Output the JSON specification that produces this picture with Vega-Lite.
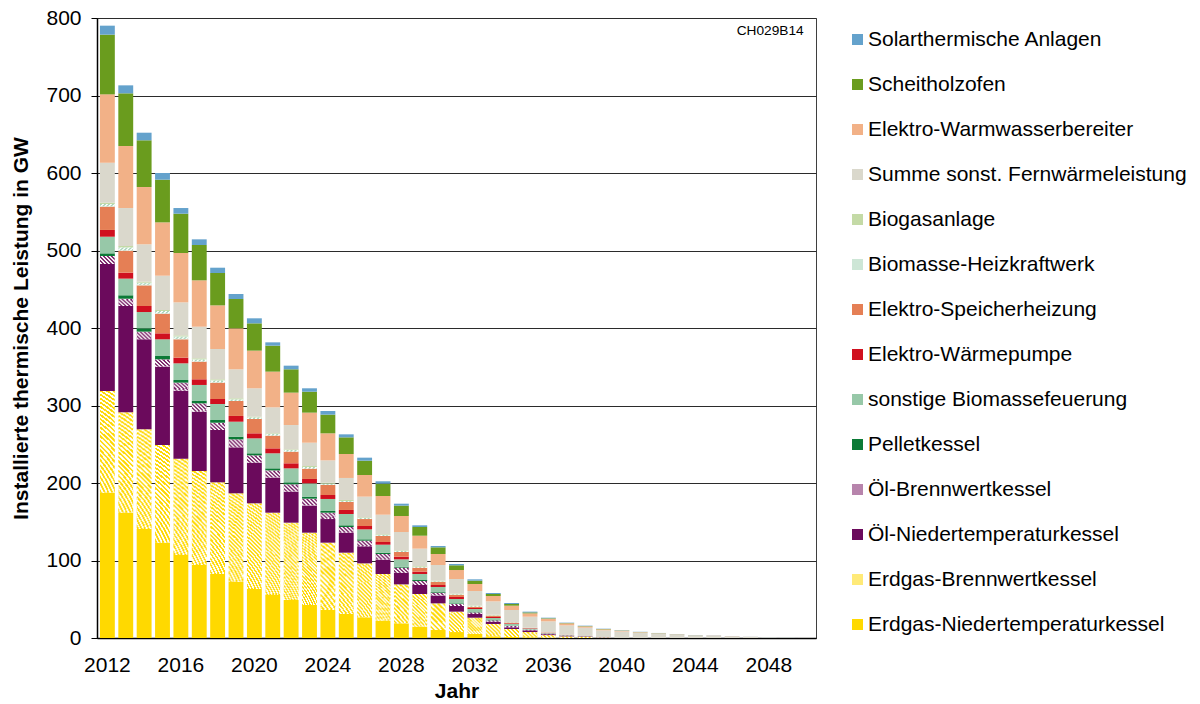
{
  "$schema": "https://vega.github.io/schema/vega-lite/v6.json",
  "width": 719,
  "height": 620,
  "autosize": {"type": "none"},
  "padding": {"left": 97, "top": 18, "right": 384, "bottom": 66},
  "background": "#ffffff",
  "config": {
    "font": "Liberation Sans",
    "view": {"stroke": "#3f3f3f", "strokeWidth": 1},
    "axis": {
      "labelFont": "Liberation Sans",
      "titleFont": "Liberation Sans",
      "labelFontSize": 21,
      "titleFontSize": 21,
      "labelColor": "#000000",
      "titleColor": "#000000",
      "titleFontWeight": "bold",
      "domainColor": "#000000",
      "domainWidth": 1.5,
      "tickColor": "#000000"
    }
  },
  "datasets": {
    "leistung": [
      {"Jahr": 2012, "ent": 187.5, "ebw": 131.2, "oent": 163.9, "oebw": 10.3, "pel": 3.4, "sbio": 21.5, "ewp": 8.7, "esh": 30.1, "bhkw": 3.4, "bgas": 1.7, "fw": 51.6, "eww": 88.2, "sch": 77.0, "sol": 11.6},
      {"Jahr": 2013, "ent": 161.7, "ebw": 129.5, "oent": 137.2, "oebw": 9.4, "pel": 4.4, "sbio": 21.5, "ewp": 7.7, "esh": 28.4, "bhkw": 4.3, "bgas": 1.7, "fw": 49.0, "eww": 80.0, "sch": 68.0, "sol": 10.3},
      {"Jahr": 2014, "ent": 140.6, "ebw": 128.6, "oent": 116.2, "oebw": 9.9, "pel": 4.3, "sbio": 21.0, "ewp": 7.8, "esh": 26.6, "bhkw": 3.5, "bgas": 1.3, "fw": 48.2, "eww": 73.9, "sch": 60.3, "sol": 9.8},
      {"Jahr": 2015, "ent": 123.0, "ebw": 126.0, "oent": 101.1, "oebw": 9.5, "pel": 4.3, "sbio": 21.5, "ewp": 7.7, "esh": 25.4, "bhkw": 3.4, "bgas": 1.3, "fw": 44.3, "eww": 68.8, "sch": 55.1, "sol": 8.6},
      {"Jahr": 2016, "ent": 107.1, "ebw": 124.3, "oent": 87.7, "oebw": 10.4, "pel": 3.4, "sbio": 21.5, "ewp": 7.3, "esh": 23.7, "bhkw": 3.8, "bgas": 1.3, "fw": 42.6, "eww": 63.7, "sch": 50.7, "sol": 7.3},
      {"Jahr": 2017, "ent": 94.2, "ebw": 121.3, "oent": 76.5, "oebw": 10.8, "pel": 3.0, "sbio": 20.7, "ewp": 7.3, "esh": 22.8, "bhkw": 3.0, "bgas": 1.3, "fw": 40.8, "eww": 59.8, "sch": 45.6, "sol": 7.3},
      {"Jahr": 2018, "ent": 82.6, "ebw": 118.3, "oent": 67.5, "oebw": 9.4, "pel": 3.5, "sbio": 20.6, "ewp": 6.5, "esh": 21.1, "bhkw": 3.0, "bgas": 1.3, "fw": 39.1, "eww": 56.3, "sch": 41.8, "sol": 6.8},
      {"Jahr": 2019, "ent": 72.7, "ebw": 114.0, "oent": 59.3, "oebw": 10.3, "pel": 3.5, "sbio": 19.3, "ewp": 7.4, "esh": 19.3, "bhkw": 2.2, "bgas": 1.3, "fw": 37.4, "eww": 52.9, "sch": 37.8, "sol": 6.5},
      {"Jahr": 2020, "ent": 63.2, "ebw": 110.6, "oent": 52.4, "oebw": 9.5, "pel": 2.6, "sbio": 19.3, "ewp": 6.5, "esh": 18.5, "bhkw": 2.1, "bgas": 0.9, "fw": 36.6, "eww": 48.6, "sch": 35.2, "sol": 6.5},
      {"Jahr": 2021, "ent": 55.5, "ebw": 106.2, "oent": 45.2, "oebw": 9.4, "pel": 2.6, "sbio": 19.4, "ewp": 6.4, "esh": 16.4, "bhkw": 2.1, "bgas": 0.9, "fw": 33.5, "eww": 46.1, "sch": 33.5, "sol": 4.3},
      {"Jahr": 2022, "ent": 49.0, "ebw": 99.8, "oent": 40.0, "oebw": 9.5, "pel": 2.6, "sbio": 18.0, "ewp": 6.5, "esh": 15.0, "bhkw": 2.2, "bgas": 0.8, "fw": 31.4, "eww": 41.8, "sch": 30.1, "sol": 4.7},
      {"Jahr": 2023, "ent": 42.6, "ebw": 93.3, "oent": 34.9, "oebw": 9.0, "pel": 2.6, "sbio": 17.2, "ewp": 5.6, "esh": 13.3, "bhkw": 2.1, "bgas": 1.3, "fw": 30.1, "eww": 38.8, "sch": 27.0, "sol": 4.4},
      {"Jahr": 2024, "ent": 36.1, "ebw": 86.9, "oent": 30.5, "oebw": 8.2, "pel": 2.2, "sbio": 15.5, "ewp": 5.1, "esh": 12.9, "bhkw": 1.7, "bgas": 1.3, "fw": 28.8, "eww": 34.9, "sch": 24.1, "sol": 4.7},
      {"Jahr": 2025, "ent": 31.0, "ebw": 79.1, "oent": 25.8, "oebw": 7.3, "pel": 2.2, "sbio": 14.6, "ewp": 5.2, "esh": 10.3, "bhkw": 1.3, "bgas": 1.3, "fw": 28.4, "eww": 30.9, "sch": 21.5, "sol": 3.9},
      {"Jahr": 2026, "ent": 26.7, "ebw": 69.6, "oent": 22.0, "oebw": 7.3, "pel": 1.7, "sbio": 12.9, "ewp": 4.3, "esh": 9.0, "bhkw": 1.3, "bgas": 0.9, "fw": 26.7, "eww": 27.9, "sch": 18.5, "sol": 3.9},
      {"Jahr": 2027, "ent": 22.4, "ebw": 60.2, "oent": 18.5, "oebw": 7.3, "pel": 1.7, "sbio": 10.3, "ewp": 3.5, "esh": 7.7, "bhkw": 1.3, "bgas": 0.9, "fw": 25.3, "eww": 24.1, "sch": 15.9, "sol": 3.1},
      {"Jahr": 2028, "ent": 18.9, "ebw": 50.3, "oent": 15.1, "oebw": 6.5, "pel": 1.2, "sbio": 9.5, "ewp": 3.4, "esh": 6.1, "bhkw": 1.3, "bgas": 0.8, "fw": 23.7, "eww": 20.6, "sch": 13.4, "sol": 2.5},
      {"Jahr": 2029, "ent": 14.6, "ebw": 42.2, "oent": 11.6, "oebw": 5.1, "pel": 1.3, "sbio": 7.8, "ewp": 3.0, "esh": 5.2, "bhkw": 1.2, "bgas": 0.9, "fw": 22.4, "eww": 16.7, "sch": 11.2, "sol": 2.2},
      {"Jahr": 2030, "ent": 10.3, "ebw": 34.4, "oent": 9.9, "oebw": 3.9, "pel": 0.9, "sbio": 6.4, "ewp": 2.6, "esh": 3.9, "bhkw": 0.8, "bgas": 0.9, "fw": 20.2, "eww": 14.2, "sch": 8.6, "sol": 1.7},
      {"Jahr": 2031, "ent": 7.7, "ebw": 26.3, "oent": 7.3, "oebw": 2.6, "pel": 0.8, "sbio": 5.6, "ewp": 2.6, "esh": 2.6, "bhkw": 0.8, "bgas": 0.9, "fw": 18.9, "eww": 11.6, "sch": 6.1, "sol": 1.7},
      {"Jahr": 2032, "ent": 5.2, "ebw": 21.0, "oent": 4.8, "oebw": 2.1, "pel": 0.4, "sbio": 3.9, "ewp": 1.3, "esh": 1.7, "bhkw": 1.2, "bgas": 0.6, "fw": 18.4, "eww": 9.1, "sch": 4.3, "sol": 1.7},
      {"Jahr": 2033, "ent": 2.2, "ebw": 15.9, "oent": 3.0, "oebw": 1.7, "pel": 0.4, "sbio": 2.6, "ewp": 1.3, "esh": 1.7, "bhkw": 0.4, "bgas": 0.9, "fw": 17.2, "eww": 6.9, "sch": 2.6, "sol": 1.3},
      {"Jahr": 2034, "ent": 1.3, "ebw": 10.3, "oent": 2.2, "oebw": 1.7, "pel": 0.4, "sbio": 2.2, "ewp": 0.8, "esh": 0.9, "bhkw": 0.4, "bgas": 0.4, "fw": 15.5, "eww": 5.6, "sch": 2.2, "sol": 1.3},
      {"Jahr": 2035, "ent": 0.9, "ebw": 6.8, "oent": 2.2, "oebw": 0.9, "pel": 0.2, "sbio": 1.2, "ewp": 0.5, "esh": 0.4, "bhkw": 0.1, "bgas": 0.1, "fw": 14.2, "eww": 4.3, "sch": 1.2, "sol": 1.0},
      {"Jahr": 2036, "ent": 0.3, "ebw": 3.4, "oent": 1.2, "oebw": 0.6, "pel": 0.2, "sbio": 0.6, "ewp": 0.4, "esh": 0.4, "bhkw": 0.1, "bgas": 0.1, "fw": 14.2, "eww": 3.4, "sch": 0.6, "sol": 0.7},
      {"Jahr": 2037, "ent": 0.1, "ebw": 2.0, "oent": 0.8, "oebw": 0.4, "pel": 0.1, "sbio": 0.4, "ewp": 0.2, "esh": 0.2, "bhkw": 0.05, "bgas": 0.05, "fw": 12.0, "eww": 2.6, "sch": 0.4, "sol": 0.5},
      {"Jahr": 2038, "ent": 0.05, "ebw": 1.2, "oent": 0.5, "oebw": 0.3, "pel": 0.05, "sbio": 0.3, "ewp": 0.1, "esh": 0.1, "bhkw": 0, "bgas": 0, "fw": 10.7, "eww": 1.7, "sch": 0.4, "sol": 0.5},
      {"Jahr": 2039, "ent": 0, "ebw": 0.4, "oent": 0.2, "oebw": 0.1, "pel": 0, "sbio": 0.1, "ewp": 0.05, "esh": 0.05, "bhkw": 0, "bgas": 0, "fw": 9.0, "eww": 1.3, "sch": 0.4, "sol": 0.4},
      {"Jahr": 2040, "ent": 0, "ebw": 0.2, "oent": 0, "oebw": 0, "pel": 0, "sbio": 0, "ewp": 0, "esh": 0, "bhkw": 0, "bgas": 0, "fw": 8.2, "eww": 1.0, "sch": 0.3, "sol": 0.3},
      {"Jahr": 2041, "ent": 0, "ebw": 0, "oent": 0, "oebw": 0, "pel": 0, "sbio": 0, "ewp": 0, "esh": 0, "bhkw": 0, "bgas": 0, "fw": 6.9, "eww": 0.6, "sch": 0.2, "sol": 0.3},
      {"Jahr": 2042, "ent": 0, "ebw": 0, "oent": 0, "oebw": 0, "pel": 0, "sbio": 0, "ewp": 0, "esh": 0, "bhkw": 0, "bgas": 0, "fw": 5.7, "eww": 0.4, "sch": 0.2, "sol": 0.2},
      {"Jahr": 2043, "ent": 0, "ebw": 0, "oent": 0, "oebw": 0, "pel": 0, "sbio": 0, "ewp": 0, "esh": 0, "bhkw": 0, "bgas": 0, "fw": 4.6, "eww": 0.3, "sch": 0.1, "sol": 0.2},
      {"Jahr": 2044, "ent": 0, "ebw": 0, "oent": 0, "oebw": 0, "pel": 0, "sbio": 0, "ewp": 0, "esh": 0, "bhkw": 0, "bgas": 0, "fw": 3.4, "eww": 0.2, "sch": 0.1, "sol": 0.2},
      {"Jahr": 2045, "ent": 0, "ebw": 0, "oent": 0, "oebw": 0, "pel": 0, "sbio": 0, "ewp": 0, "esh": 0, "bhkw": 0, "bgas": 0, "fw": 3.0, "eww": 0.3, "sch": 0, "sol": 0.2},
      {"Jahr": 2046, "ent": 0, "ebw": 0, "oent": 0, "oebw": 0, "pel": 0, "sbio": 0, "ewp": 0, "esh": 0, "bhkw": 0, "bgas": 0, "fw": 2.3, "eww": 0.2, "sch": 0, "sol": 0.1},
      {"Jahr": 2047, "ent": 0, "ebw": 0, "oent": 0, "oebw": 0, "pel": 0, "sbio": 0, "ewp": 0, "esh": 0, "bhkw": 0, "bgas": 0, "fw": 1.5, "eww": 0.1, "sch": 0, "sol": 0.1},
      {"Jahr": 2048, "ent": 0, "ebw": 0, "oent": 0, "oebw": 0, "pel": 0, "sbio": 0, "ewp": 0, "esh": 0, "bhkw": 0, "bgas": 0, "fw": 0.8, "eww": 0, "sch": 0, "sol": 0.1},
      {"Jahr": 2049, "ent": 0, "ebw": 0, "oent": 0, "oebw": 0, "pel": 0, "sbio": 0, "ewp": 0, "esh": 0, "bhkw": 0, "bgas": 0, "fw": 0.6, "eww": 0, "sch": 0, "sol": 0.1},
      {"Jahr": 2050, "ent": 0, "ebw": 0, "oent": 0, "oebw": 0, "pel": 0, "sbio": 0, "ewp": 0, "esh": 0, "bhkw": 0, "bgas": 0, "fw": 0.2, "eww": 0, "sch": 0, "sol": 0}
    ],
    "anlagen": [
      {"key": "sol", "Anlage": "Solarthermische Anlagen"},
      {"key": "sch", "Anlage": "Scheitholzofen"},
      {"key": "eww", "Anlage": "Elektro-Warmwasserbereiter"},
      {"key": "fw", "Anlage": "Summe sonst. Fernwärmeleistung"},
      {"key": "bgas", "Anlage": "Biogasanlage"},
      {"key": "bhkw", "Anlage": "Biomasse-Heizkraftwerk"},
      {"key": "esh", "Anlage": "Elektro-Speicherheizung"},
      {"key": "ewp", "Anlage": "Elektro-Wärmepumpe"},
      {"key": "sbio", "Anlage": "sonstige Biomassefeuerung"},
      {"key": "pel", "Anlage": "Pelletkessel"},
      {"key": "oebw", "Anlage": "Öl-Brennwertkessel"},
      {"key": "oent", "Anlage": "Öl-Niedertemperaturkessel"},
      {"key": "ebw", "Anlage": "Erdgas-Brennwertkessel"},
      {"key": "ent", "Anlage": "Erdgas-Niedertemperaturkessel"}
    ]
  },
  "layer": [
    {
      "data": {"name": "leistung"},
      "transform": [
        {"fold": ["ent", "ebw", "oent", "oebw", "pel", "sbio", "ewp", "esh", "bhkw", "bgas", "fw", "eww", "sch", "sol"], "as": ["key", "GW"]},
        {"lookup": "key", "from": {"data": {"name": "anlagen"}, "key": "key", "fields": ["Anlage"]}},
        {"calculate": "indexof(['ent','ebw','oent','oebw','pel','sbio','ewp','esh','bhkw','bgas','fw','eww','sch','sol'], datum.key)", "as": "Stapel"}
      ],
      "mark": {"type": "bar"},
      "encoding": {
        "x": {
          "field": "Jahr",
          "type": "ordinal",
          "scale": {"paddingInner": 0.19, "paddingOuter": 0.16},
          "axis": {
            "values": [2012, 2016, 2020, 2024, 2028, 2032, 2036, 2040, 2044, 2048],
            "labelAngle": 0,
            "ticks": false,
            "tickSize": 0,
            "labelPadding": 16,
            "title": "Jahr",
            "titlePadding": 5,
            "grid": false
          }
        },
        "y": {
          "field": "GW",
          "type": "quantitative",
          "stack": "zero",
          "scale": {"domain": [0, 800], "nice": false},
          "axis": {
            "values": [0, 100, 200, 300, 400, 500, 600, 700, 800],
            "title": "Installierte thermische Leistung in GW",
            "tickSize": 6,
            "labelPadding": 10,
            "titlePadding": 14,
            "grid": true,
            "gridColor": "#2b2b2b",
            "gridWidth": 1
          }
        },
        "order": {"field": "Stapel", "type": "quantitative"},
        "color": {
          "condition": [
            {"test": "datum.key === 'ebw' && datum.GW >= 90", "value": {"gradient": "radial", "x1": -0.3583, "y1": 1.3583, "r1": 0, "x2": -0.3583, "y2": 1.3583, "r2": 1.6638, "stops": [
              {"offset": 0.46, "color": "#FFD800"}, {"offset": 0.47, "color": "#FFD800"}, {"offset": 0.47, "color": "#FFFFFF"}, {"offset": 0.48, "color": "#FFFFFF"},
              {"offset": 0.48, "color": "#FFD800"}, {"offset": 0.49, "color": "#FFD800"}, {"offset": 0.49, "color": "#FFFFFF"}, {"offset": 0.5, "color": "#FFFFFF"},
              {"offset": 0.5, "color": "#FFD800"}, {"offset": 0.51, "color": "#FFD800"}, {"offset": 0.51, "color": "#FFFFFF"}, {"offset": 0.52, "color": "#FFFFFF"},
              {"offset": 0.52, "color": "#FFD800"}, {"offset": 0.53, "color": "#FFD800"}, {"offset": 0.53, "color": "#FFFFFF"}, {"offset": 0.54, "color": "#FFFFFF"},
              {"offset": 0.54, "color": "#FFD800"}, {"offset": 0.55, "color": "#FFD800"}, {"offset": 0.55, "color": "#FFFFFF"}, {"offset": 0.56, "color": "#FFFFFF"},
              {"offset": 0.56, "color": "#FFD800"}, {"offset": 0.57, "color": "#FFD800"}, {"offset": 0.57, "color": "#FFFFFF"}, {"offset": 0.58, "color": "#FFFFFF"},
              {"offset": 0.58, "color": "#FFD800"}, {"offset": 0.59, "color": "#FFD800"}, {"offset": 0.59, "color": "#FFFFFF"}, {"offset": 0.6, "color": "#FFFFFF"},
              {"offset": 0.6, "color": "#FFD800"}, {"offset": 0.61, "color": "#FFD800"}, {"offset": 0.61, "color": "#FFFFFF"}, {"offset": 0.62, "color": "#FFFFFF"},
              {"offset": 0.62, "color": "#FFD800"}, {"offset": 0.63, "color": "#FFD800"}, {"offset": 0.63, "color": "#FFFFFF"}, {"offset": 0.64, "color": "#FFFFFF"},
              {"offset": 0.64, "color": "#FFD800"}, {"offset": 0.65, "color": "#FFD800"}, {"offset": 0.65, "color": "#FFFFFF"}, {"offset": 0.66, "color": "#FFFFFF"},
              {"offset": 0.66, "color": "#FFD800"}, {"offset": 0.67, "color": "#FFD800"}, {"offset": 0.67, "color": "#FFFFFF"}, {"offset": 0.68, "color": "#FFFFFF"},
              {"offset": 0.68, "color": "#FFD800"}, {"offset": 0.69, "color": "#FFD800"}, {"offset": 0.69, "color": "#FFFFFF"}, {"offset": 0.7, "color": "#FFFFFF"},
              {"offset": 0.7, "color": "#FFD800"}, {"offset": 0.71, "color": "#FFD800"}, {"offset": 0.71, "color": "#FFFFFF"}, {"offset": 0.72, "color": "#FFFFFF"},
              {"offset": 0.72, "color": "#FFD800"}, {"offset": 0.73, "color": "#FFD800"}, {"offset": 0.73, "color": "#FFFFFF"}, {"offset": 0.74, "color": "#FFFFFF"},
              {"offset": 0.74, "color": "#FFD800"}, {"offset": 0.75, "color": "#FFD800"}, {"offset": 0.75, "color": "#FFFFFF"}, {"offset": 0.76, "color": "#FFFFFF"},
              {"offset": 0.76, "color": "#FFD800"}, {"offset": 0.77, "color": "#FFD800"}, {"offset": 0.77, "color": "#FFFFFF"}, {"offset": 0.78, "color": "#FFFFFF"},
              {"offset": 0.78, "color": "#FFD800"}, {"offset": 0.79, "color": "#FFD800"}, {"offset": 0.79, "color": "#FFFFFF"}, {"offset": 0.8, "color": "#FFFFFF"},
              {"offset": 0.8, "color": "#FFD800"}, {"offset": 0.81, "color": "#FFD800"}, {"offset": 0.81, "color": "#FFFFFF"}, {"offset": 0.82, "color": "#FFFFFF"},
              {"offset": 0.82, "color": "#FFD800"}, {"offset": 0.83, "color": "#FFD800"}, {"offset": 0.83, "color": "#FFFFFF"}, {"offset": 0.84, "color": "#FFFFFF"},
              {"offset": 0.84, "color": "#FFD800"}, {"offset": 0.85, "color": "#FFD800"}, {"offset": 0.85, "color": "#FFFFFF"}, {"offset": 0.86, "color": "#FFFFFF"},
              {"offset": 0.86, "color": "#FFD800"}, {"offset": 0.87, "color": "#FFD800"}, {"offset": 0.87, "color": "#FFFFFF"}, {"offset": 0.88, "color": "#FFFFFF"},
              {"offset": 0.88, "color": "#FFD800"}, {"offset": 0.89, "color": "#FFD800"}, {"offset": 0.89, "color": "#FFFFFF"}, {"offset": 0.9, "color": "#FFFFFF"},
              {"offset": 0.9, "color": "#FFD800"}, {"offset": 0.91, "color": "#FFD800"}, {"offset": 0.91, "color": "#FFFFFF"}, {"offset": 0.92, "color": "#FFFFFF"},
              {"offset": 0.92, "color": "#FFD800"}, {"offset": 0.93, "color": "#FFD800"}, {"offset": 0.93, "color": "#FFFFFF"}, {"offset": 0.94, "color": "#FFFFFF"},
              {"offset": 0.94, "color": "#FFD800"}, {"offset": 0.95, "color": "#FFD800"}, {"offset": 0.95, "color": "#FFFFFF"}, {"offset": 0.96, "color": "#FFFFFF"},
              {"offset": 0.96, "color": "#FFD800"}, {"offset": 0.97, "color": "#FFD800"}, {"offset": 0.97, "color": "#FFFFFF"}, {"offset": 0.98, "color": "#FFFFFF"},
              {"offset": 0.98, "color": "#FFD800"}, {"offset": 0.99, "color": "#FFD800"}, {"offset": 0.99, "color": "#FFFFFF"}, {"offset": 1, "color": "#FFFFFF"}
            ]}},
            {"test": "datum.key === 'ebw' && datum.GW >= 58", "value": {"gradient": "radial", "x1": -0.9463, "y1": 1.9463, "r1": 0, "x2": -0.9463, "y2": 1.9463, "r2": 2.5254, "stops": [
              {"offset": 0.62, "color": "#FFD800"}, {"offset": 0.63, "color": "#FFD800"}, {"offset": 0.63, "color": "#FFFFFF"}, {"offset": 0.64, "color": "#FFFFFF"},
              {"offset": 0.64, "color": "#FFD800"}, {"offset": 0.65, "color": "#FFD800"}, {"offset": 0.65, "color": "#FFFFFF"}, {"offset": 0.66, "color": "#FFFFFF"},
              {"offset": 0.66, "color": "#FFD800"}, {"offset": 0.67, "color": "#FFD800"}, {"offset": 0.67, "color": "#FFFFFF"}, {"offset": 0.68, "color": "#FFFFFF"},
              {"offset": 0.68, "color": "#FFD800"}, {"offset": 0.69, "color": "#FFD800"}, {"offset": 0.69, "color": "#FFFFFF"}, {"offset": 0.7, "color": "#FFFFFF"},
              {"offset": 0.7, "color": "#FFD800"}, {"offset": 0.71, "color": "#FFD800"}, {"offset": 0.71, "color": "#FFFFFF"}, {"offset": 0.72, "color": "#FFFFFF"},
              {"offset": 0.72, "color": "#FFD800"}, {"offset": 0.73, "color": "#FFD800"}, {"offset": 0.73, "color": "#FFFFFF"}, {"offset": 0.74, "color": "#FFFFFF"},
              {"offset": 0.74, "color": "#FFD800"}, {"offset": 0.75, "color": "#FFD800"}, {"offset": 0.75, "color": "#FFFFFF"}, {"offset": 0.76, "color": "#FFFFFF"},
              {"offset": 0.76, "color": "#FFD800"}, {"offset": 0.77, "color": "#FFD800"}, {"offset": 0.77, "color": "#FFFFFF"}, {"offset": 0.78, "color": "#FFFFFF"},
              {"offset": 0.78, "color": "#FFD800"}, {"offset": 0.79, "color": "#FFD800"}, {"offset": 0.79, "color": "#FFFFFF"}, {"offset": 0.8, "color": "#FFFFFF"},
              {"offset": 0.8, "color": "#FFD800"}, {"offset": 0.81, "color": "#FFD800"}, {"offset": 0.81, "color": "#FFFFFF"}, {"offset": 0.82, "color": "#FFFFFF"},
              {"offset": 0.82, "color": "#FFD800"}, {"offset": 0.83, "color": "#FFD800"}, {"offset": 0.83, "color": "#FFFFFF"}, {"offset": 0.84, "color": "#FFFFFF"},
              {"offset": 0.84, "color": "#FFD800"}, {"offset": 0.85, "color": "#FFD800"}, {"offset": 0.85, "color": "#FFFFFF"}, {"offset": 0.86, "color": "#FFFFFF"},
              {"offset": 0.86, "color": "#FFD800"}, {"offset": 0.87, "color": "#FFD800"}, {"offset": 0.87, "color": "#FFFFFF"}, {"offset": 0.88, "color": "#FFFFFF"},
              {"offset": 0.88, "color": "#FFD800"}, {"offset": 0.89, "color": "#FFD800"}, {"offset": 0.89, "color": "#FFFFFF"}, {"offset": 0.9, "color": "#FFFFFF"},
              {"offset": 0.9, "color": "#FFD800"}, {"offset": 0.91, "color": "#FFD800"}, {"offset": 0.91, "color": "#FFFFFF"}, {"offset": 0.92, "color": "#FFFFFF"},
              {"offset": 0.92, "color": "#FFD800"}, {"offset": 0.93, "color": "#FFD800"}, {"offset": 0.93, "color": "#FFFFFF"}, {"offset": 0.94, "color": "#FFFFFF"},
              {"offset": 0.94, "color": "#FFD800"}, {"offset": 0.95, "color": "#FFD800"}, {"offset": 0.95, "color": "#FFFFFF"}, {"offset": 0.96, "color": "#FFFFFF"},
              {"offset": 0.96, "color": "#FFD800"}, {"offset": 0.97, "color": "#FFD800"}, {"offset": 0.97, "color": "#FFFFFF"}, {"offset": 0.98, "color": "#FFFFFF"},
              {"offset": 0.98, "color": "#FFD800"}, {"offset": 0.99, "color": "#FFD800"}, {"offset": 0.99, "color": "#FFFFFF"}, {"offset": 1, "color": "#FFFFFF"}
            ]}},
            {"test": "datum.key === 'ebw' && datum.GW >= 36", "value": {"gradient": "radial", "x1": -1.8818, "y1": 2.8818, "r1": 0, "x2": -1.8818, "y2": 2.8818, "r2": 3.9283, "stops": [
              {"offset": 0.7, "color": "#FFD800"}, {"offset": 0.71, "color": "#FFD800"}, {"offset": 0.71, "color": "#FFFFFF"}, {"offset": 0.72, "color": "#FFFFFF"},
              {"offset": 0.72, "color": "#FFD800"}, {"offset": 0.73, "color": "#FFD800"}, {"offset": 0.73, "color": "#FFFFFF"}, {"offset": 0.74, "color": "#FFFFFF"},
              {"offset": 0.74, "color": "#FFD800"}, {"offset": 0.75, "color": "#FFD800"}, {"offset": 0.75, "color": "#FFFFFF"}, {"offset": 0.76, "color": "#FFFFFF"},
              {"offset": 0.76, "color": "#FFD800"}, {"offset": 0.77, "color": "#FFD800"}, {"offset": 0.77, "color": "#FFFFFF"}, {"offset": 0.78, "color": "#FFFFFF"},
              {"offset": 0.78, "color": "#FFD800"}, {"offset": 0.79, "color": "#FFD800"}, {"offset": 0.79, "color": "#FFFFFF"}, {"offset": 0.8, "color": "#FFFFFF"},
              {"offset": 0.8, "color": "#FFD800"}, {"offset": 0.81, "color": "#FFD800"}, {"offset": 0.81, "color": "#FFFFFF"}, {"offset": 0.82, "color": "#FFFFFF"},
              {"offset": 0.82, "color": "#FFD800"}, {"offset": 0.83, "color": "#FFD800"}, {"offset": 0.83, "color": "#FFFFFF"}, {"offset": 0.84, "color": "#FFFFFF"},
              {"offset": 0.84, "color": "#FFD800"}, {"offset": 0.85, "color": "#FFD800"}, {"offset": 0.85, "color": "#FFFFFF"}, {"offset": 0.86, "color": "#FFFFFF"},
              {"offset": 0.86, "color": "#FFD800"}, {"offset": 0.87, "color": "#FFD800"}, {"offset": 0.87, "color": "#FFFFFF"}, {"offset": 0.88, "color": "#FFFFFF"},
              {"offset": 0.88, "color": "#FFD800"}, {"offset": 0.89, "color": "#FFD800"}, {"offset": 0.89, "color": "#FFFFFF"}, {"offset": 0.9, "color": "#FFFFFF"},
              {"offset": 0.9, "color": "#FFD800"}, {"offset": 0.91, "color": "#FFD800"}, {"offset": 0.91, "color": "#FFFFFF"}, {"offset": 0.92, "color": "#FFFFFF"},
              {"offset": 0.92, "color": "#FFD800"}, {"offset": 0.93, "color": "#FFD800"}, {"offset": 0.93, "color": "#FFFFFF"}, {"offset": 0.94, "color": "#FFFFFF"},
              {"offset": 0.94, "color": "#FFD800"}, {"offset": 0.95, "color": "#FFD800"}, {"offset": 0.95, "color": "#FFFFFF"}, {"offset": 0.96, "color": "#FFFFFF"},
              {"offset": 0.96, "color": "#FFD800"}, {"offset": 0.97, "color": "#FFD800"}, {"offset": 0.97, "color": "#FFFFFF"}, {"offset": 0.98, "color": "#FFFFFF"},
              {"offset": 0.98, "color": "#FFD800"}, {"offset": 0.99, "color": "#FFD800"}, {"offset": 0.99, "color": "#FFFFFF"}, {"offset": 1, "color": "#FFFFFF"}
            ]}},
            {"test": "datum.key === 'ebw' && datum.GW >= 19", "value": {"gradient": "radial", "x1": -3.7528, "y1": 4.7528, "r1": 0, "x2": -3.7528, "y2": 4.7528, "r2": 6.7343, "stops": [
              {"offset": 0.78, "color": "#FFD800"}, {"offset": 0.79, "color": "#FFD800"}, {"offset": 0.79, "color": "#FFFFFF"}, {"offset": 0.8, "color": "#FFFFFF"},
              {"offset": 0.8, "color": "#FFD800"}, {"offset": 0.81, "color": "#FFD800"}, {"offset": 0.81, "color": "#FFFFFF"}, {"offset": 0.82, "color": "#FFFFFF"},
              {"offset": 0.82, "color": "#FFD800"}, {"offset": 0.83, "color": "#FFD800"}, {"offset": 0.83, "color": "#FFFFFF"}, {"offset": 0.84, "color": "#FFFFFF"},
              {"offset": 0.84, "color": "#FFD800"}, {"offset": 0.85, "color": "#FFD800"}, {"offset": 0.85, "color": "#FFFFFF"}, {"offset": 0.86, "color": "#FFFFFF"},
              {"offset": 0.86, "color": "#FFD800"}, {"offset": 0.87, "color": "#FFD800"}, {"offset": 0.87, "color": "#FFFFFF"}, {"offset": 0.88, "color": "#FFFFFF"},
              {"offset": 0.88, "color": "#FFD800"}, {"offset": 0.89, "color": "#FFD800"}, {"offset": 0.89, "color": "#FFFFFF"}, {"offset": 0.9, "color": "#FFFFFF"},
              {"offset": 0.9, "color": "#FFD800"}, {"offset": 0.91, "color": "#FFD800"}, {"offset": 0.91, "color": "#FFFFFF"}, {"offset": 0.92, "color": "#FFFFFF"},
              {"offset": 0.92, "color": "#FFD800"}, {"offset": 0.93, "color": "#FFD800"}, {"offset": 0.93, "color": "#FFFFFF"}, {"offset": 0.94, "color": "#FFFFFF"},
              {"offset": 0.94, "color": "#FFD800"}, {"offset": 0.95, "color": "#FFD800"}, {"offset": 0.95, "color": "#FFFFFF"}, {"offset": 0.96, "color": "#FFFFFF"},
              {"offset": 0.96, "color": "#FFD800"}, {"offset": 0.97, "color": "#FFD800"}, {"offset": 0.97, "color": "#FFFFFF"}, {"offset": 0.98, "color": "#FFFFFF"},
              {"offset": 0.98, "color": "#FFD800"}, {"offset": 0.99, "color": "#FFD800"}, {"offset": 0.99, "color": "#FFFFFF"}, {"offset": 1, "color": "#FFFFFF"}
            ]}},
            {"test": "datum.key === 'ebw'", "value": {"gradient": "radial", "x1": -5.6576, "y1": 6.6576, "r1": 0, "x2": -5.6576, "y2": 6.6576, "r2": 9.428, "stops": [
              {"offset": 0.84, "color": "#FFD800"}, {"offset": 0.85, "color": "#FFD800"}, {"offset": 0.85, "color": "#FFFFFF"}, {"offset": 0.86, "color": "#FFFFFF"},
              {"offset": 0.86, "color": "#FFD800"}, {"offset": 0.87, "color": "#FFD800"}, {"offset": 0.87, "color": "#FFFFFF"}, {"offset": 0.88, "color": "#FFFFFF"},
              {"offset": 0.88, "color": "#FFD800"}, {"offset": 0.89, "color": "#FFD800"}, {"offset": 0.89, "color": "#FFFFFF"}, {"offset": 0.9, "color": "#FFFFFF"},
              {"offset": 0.9, "color": "#FFD800"}, {"offset": 0.91, "color": "#FFD800"}, {"offset": 0.91, "color": "#FFFFFF"}, {"offset": 0.92, "color": "#FFFFFF"},
              {"offset": 0.92, "color": "#FFD800"}, {"offset": 0.93, "color": "#FFD800"}, {"offset": 0.93, "color": "#FFFFFF"}, {"offset": 0.94, "color": "#FFFFFF"},
              {"offset": 0.94, "color": "#FFD800"}, {"offset": 0.95, "color": "#FFD800"}, {"offset": 0.95, "color": "#FFFFFF"}, {"offset": 0.96, "color": "#FFFFFF"},
              {"offset": 0.96, "color": "#FFD800"}, {"offset": 0.97, "color": "#FFD800"}, {"offset": 0.97, "color": "#FFFFFF"}, {"offset": 0.98, "color": "#FFFFFF"},
              {"offset": 0.98, "color": "#FFD800"}, {"offset": 0.99, "color": "#FFD800"}, {"offset": 0.99, "color": "#FFFFFF"}, {"offset": 1, "color": "#FFFFFF"}
            ]}},
            {"test": "datum.key === 'oebw'", "value": {"gradient": "radial", "x1": -5.6576, "y1": 6.6576, "r1": 0, "x2": -5.6576, "y2": 6.6576, "r2": 9.428, "stops": [
              {"offset": 0.84, "color": "#7A2268"}, {"offset": 0.85, "color": "#7A2268"}, {"offset": 0.85, "color": "#FFFFFF"}, {"offset": 0.86, "color": "#FFFFFF"},
              {"offset": 0.86, "color": "#7A2268"}, {"offset": 0.87, "color": "#7A2268"}, {"offset": 0.87, "color": "#FFFFFF"}, {"offset": 0.88, "color": "#FFFFFF"},
              {"offset": 0.88, "color": "#7A2268"}, {"offset": 0.89, "color": "#7A2268"}, {"offset": 0.89, "color": "#FFFFFF"}, {"offset": 0.9, "color": "#FFFFFF"},
              {"offset": 0.9, "color": "#7A2268"}, {"offset": 0.91, "color": "#7A2268"}, {"offset": 0.91, "color": "#FFFFFF"}, {"offset": 0.92, "color": "#FFFFFF"},
              {"offset": 0.92, "color": "#7A2268"}, {"offset": 0.93, "color": "#7A2268"}, {"offset": 0.93, "color": "#FFFFFF"}, {"offset": 0.94, "color": "#FFFFFF"},
              {"offset": 0.94, "color": "#7A2268"}, {"offset": 0.95, "color": "#7A2268"}, {"offset": 0.95, "color": "#FFFFFF"}, {"offset": 0.96, "color": "#FFFFFF"},
              {"offset": 0.96, "color": "#7A2268"}, {"offset": 0.97, "color": "#7A2268"}, {"offset": 0.97, "color": "#FFFFFF"}, {"offset": 0.98, "color": "#FFFFFF"},
              {"offset": 0.98, "color": "#7A2268"}, {"offset": 0.99, "color": "#7A2268"}, {"offset": 0.99, "color": "#FFFFFF"}, {"offset": 1, "color": "#FFFFFF"}
            ]}},
            {"test": "datum.key === 'bhkw'", "value": {"gradient": "radial", "x1": -5.6576, "y1": -5.6576, "r1": 0, "x2": -5.6576, "y2": -5.6576, "r2": 9.428, "stops": [
              {"offset": 0.84, "color": "#A6D4B8"}, {"offset": 0.85, "color": "#A6D4B8"}, {"offset": 0.85, "color": "#FFFFFF"}, {"offset": 0.86, "color": "#FFFFFF"},
              {"offset": 0.86, "color": "#A6D4B8"}, {"offset": 0.87, "color": "#A6D4B8"}, {"offset": 0.87, "color": "#FFFFFF"}, {"offset": 0.88, "color": "#FFFFFF"},
              {"offset": 0.88, "color": "#A6D4B8"}, {"offset": 0.89, "color": "#A6D4B8"}, {"offset": 0.89, "color": "#FFFFFF"}, {"offset": 0.9, "color": "#FFFFFF"},
              {"offset": 0.9, "color": "#A6D4B8"}, {"offset": 0.91, "color": "#A6D4B8"}, {"offset": 0.91, "color": "#FFFFFF"}, {"offset": 0.92, "color": "#FFFFFF"},
              {"offset": 0.92, "color": "#A6D4B8"}, {"offset": 0.93, "color": "#A6D4B8"}, {"offset": 0.93, "color": "#FFFFFF"}, {"offset": 0.94, "color": "#FFFFFF"},
              {"offset": 0.94, "color": "#A6D4B8"}, {"offset": 0.95, "color": "#A6D4B8"}, {"offset": 0.95, "color": "#FFFFFF"}, {"offset": 0.96, "color": "#FFFFFF"},
              {"offset": 0.96, "color": "#A6D4B8"}, {"offset": 0.97, "color": "#A6D4B8"}, {"offset": 0.97, "color": "#FFFFFF"}, {"offset": 0.98, "color": "#FFFFFF"},
              {"offset": 0.98, "color": "#A6D4B8"}, {"offset": 0.99, "color": "#A6D4B8"}, {"offset": 0.99, "color": "#FFFFFF"}, {"offset": 1, "color": "#FFFFFF"}
            ]}}
          ],
          "field": "Anlage",
          "type": "nominal",
          "scale": {
            "domain": [
              "Solarthermische Anlagen",
              "Scheitholzofen",
              "Elektro-Warmwasserbereiter",
              "Summe sonst. Fernwärmeleistung",
              "Biogasanlage",
              "Biomasse-Heizkraftwerk",
              "Elektro-Speicherheizung",
              "Elektro-Wärmepumpe",
              "sonstige Biomassefeuerung",
              "Pelletkessel",
              "Öl-Brennwertkessel",
              "Öl-Niedertemperaturkessel",
              "Erdgas-Brennwertkessel",
              "Erdgas-Niedertemperaturkessel"
            ],
            "range": [
              "#64A2CC",
              "#6A9C1E",
              "#F2B187",
              "#DAD8CC",
              "#C4DAA6",
              "#CDE6D6",
              "#E57F55",
              "#D0101F",
              "#97C8A8",
              "#0B7A36",
              "#B784AC",
              "#6B0A5C",
              "#FFEA78",
              "#FFD900"
            ]
          },
          "legend": {
            "orient": "none",
            "legendX": 750,
            "legendY": 11,
            "title": null,
            "symbolType": "square",
            "symbolSize": 121,
            "symbolStrokeWidth": 0,
            "labelFont": "Liberation Sans",
            "labelFontSize": 21,
            "labelColor": "#000000",
            "labelOffset": 0,
            "labelLimit": 400,
            "rowPadding": 23,
            "padding": 0
          }
        }
      }
    },
    {
      "data": {"values": [{"Kennung": "CH029B14"}]},
      "mark": {"type": "text", "align": "right", "baseline": "middle", "fontSize": 13.7, "font": "Liberation Sans", "color": "#000000", "dx": -2},
      "encoding": {
        "x": {"datum": 2050, "type": "ordinal"},
        "y": {"datum": 783, "type": "quantitative"},
        "text": {"field": "Kennung"}
      }
    }
  ]
}
